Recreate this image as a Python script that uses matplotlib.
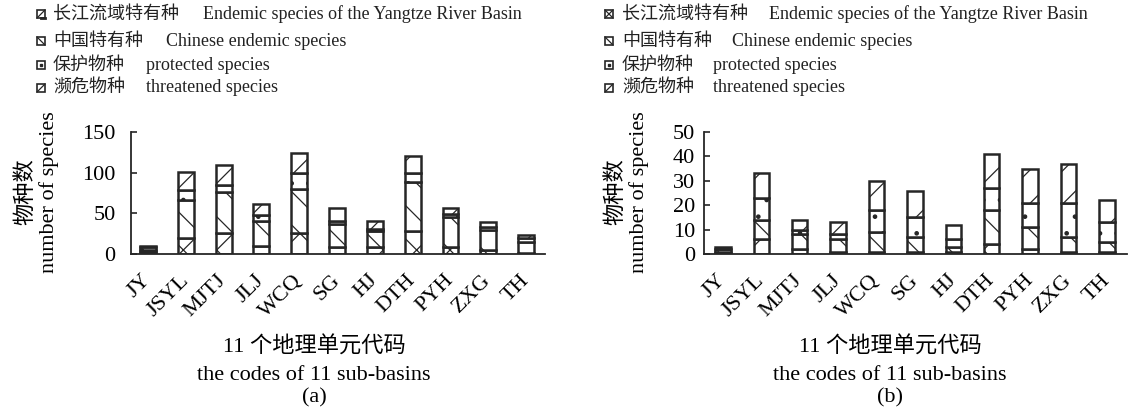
import matplotlib
matplotlib.use("Agg")
import matplotlib.pyplot as plt
from matplotlib.patches import Rectangle
from matplotlib.lines import Line2D
import numpy as np

plt.rcParams['font.family'] = ['Liberation Serif', 'Noto Sans CJK SC']
plt.rcParams['hatch.linewidth'] = 0.9

# Sub-basin codes
codes = ['JY', 'JSYL', 'MJTJ', 'JLJ', 'WCQ', 'SG', 'HJ', 'DTH', 'PYH', 'ZXG', 'TH']

# (a) species counts per category (stacked bottom -> top)
a_yangtze = [2, 20, 26, 10, 26, 9, 8, 28, 9, 5, 1]
a_chinese = [3, 46, 50, 30, 54, 28, 20, 60, 36, 25, 14]
a_protected = [3, 13, 9, 8, 20, 4, 3, 11, 4, 3, 5]
a_threatened = [2, 22, 25, 13, 24, 15, 9, 22, 7, 6, 3]

# (b) species counts per category (stacked bottom -> top)
b_yangtze = [1, 6, 2, 1, 1, 1, 1, 4, 2, 1, 1]
b_chinese = [1, 8, 6, 5, 8, 6, 2, 14, 9, 6, 4]
b_protected = [0, 9, 2, 2, 9, 8, 3, 9, 10, 14, 8]
b_threatened = [1, 10, 4, 5, 12, 11, 6, 14, 14, 16, 9]

a_yticks = [0, 50, 100, 150]
b_yticks = [0, 10, 20, 30, 40, 50]

cn_labels = ['长江流域特有种', '中国特有种', '保护物种', '濒危物种']
en_labels = ['Endemic species of the Yangtze River Basin', 'Chinese endemic species',
             'protected species', 'threatened species']
hatches = ['x', '\\', '.', '/']

W, H = 1145, 419
DARK = '#262626'
fig = plt.figure(figsize=(W / 100, H / 100), dpi=100)


def px_box(x0, y0, x1, y1):
    return [x0 / W, 1 - y1 / H, (x1 - x0) / W, (y1 - y0) / H]


def stacked(ax, series, width, ylim, yticks, ypad):
    x = np.arange(len(codes))
    bottom = np.zeros(len(codes))
    for vals, h in zip(series, hatches):
        vals = np.asarray(vals, dtype=float)
        ax.bar(x, vals, width, bottom=bottom, facecolor='white', edgecolor=DARK,
               linewidth=1.8, hatch=h, zorder=2)
        bottom += vals
    ax.set_ylim(*ylim)
    ax.set_yticks(yticks)
    ax.set_xticks(x)
    ax.set_xticklabels(codes, rotation=45, ha='right', va='center',
                       rotation_mode='anchor')
    for s in ('top', 'right'):
        ax.spines[s].set_visible(False)
    for s in ('left', 'bottom'):
        ax.spines[s].set_color(DARK)
        ax.spines[s].set_linewidth(1.3)
    ax.tick_params(axis='y', direction='in', length=4, width=1.2, color=DARK,
                   labelsize=16, pad=ypad)
    ax.tick_params(axis='x', length=0, labelsize=16, pad=17)


ax_a = fig.add_axes(px_box(131, 132, 545, 254))
stacked(ax_a, [a_yangtze, a_chinese, a_protected, a_threatened], 0.42, (0, 150), a_yticks, 11)
ax_a.set_xlim(-0.45, 10.5)

ax_b = fig.add_axes(px_box(704, 132, 1127, 254))
stacked(ax_b, [b_yangtze, b_chinese, b_protected, b_threatened], 0.40, (0, 50), b_yticks, 6.5)
ax_b.set_xlim(-0.49, 10.52)

# Axis titles
for xc, tag in ((314, '(a)'), (890, '(b)')):
    fig.text(xc / W, 1 - 347 / H, '11 个地理单元代码', ha='center', va='center', fontsize=16)
    fig.text(xc / W, 1 - 375 / H, 'the codes of 11 sub-basins', ha='center', va='center', fontsize=16)
    fig.text(xc / W, 1 - 398 / H, tag, ha='center', va='center', fontsize=16)

for xc in (37, 627):
    fig.text(xc / W, 1 - 192 / H, '物种数\nnumber of species', rotation=90,
             ha='center', va='center', multialignment='center', fontsize=16, linespacing=1.2)


# Legends: small hatched squares with Chinese and English text
def icon(x0, yc, kind, size=8):
    y0 = yc - size / 2
    x1, y1 = x0 + size, y0 + size
    tr = fig.transFigure
    fig.add_artist(Rectangle((x0 / W, 1 - y1 / H), size / W, size / H, transform=tr,
                             facecolor='white', edgecolor=DARK, linewidth=1.2))
    segs = []
    if kind in ('x', '/'):
        segs.append(((x0, y1), (x1, y0)))
    if kind in ('x', '\\'):
        segs.append(((x0, y0), (x1, y1)))
    for (p, q) in segs:
        fig.add_artist(Line2D([p[0] / W, q[0] / W], [1 - p[1] / H, 1 - q[1] / H],
                              transform=tr, color=DARK, linewidth=0.9))
    if kind == '.':
        fig.add_artist(Line2D([(x0 + size / 2) / W], [1 - yc / H], transform=tr,
                              marker='s', markersize=1.5, color=DARK, linestyle='none'))
    if kind == 'half':
        fig.add_artist(Line2D([x0 / W, x1 / W], [1 - y1 / H, 1 - y0 / H], transform=tr,
                              color=DARK, linewidth=0.9))
        fig.add_artist(Line2D([(x0 + 4) / W, x1 / W], [1 - y1 / H, 1 - y1 / H], transform=tr,
                              color=DARK, linewidth=2.0))


rows_y = [14, 41, 65, 88]
legend_sets = [
    (37, 53, [203, 166, 146, 146], ['half', '\\', '.', '/']),
    (605, 622, [769, 732, 713, 713], ['x', '\\', '.', '/']),
]
for ix, cx, ex_list, kinds in legend_sets:
    for yc, cn, en, ex, kd in zip(rows_y, cn_labels, en_labels, ex_list, kinds):
        icon(ix, yc, kd)
        fig.text(cx / W, 1 - yc / H, cn, ha='left', va='center', fontsize=13,
                 family=['Noto Sans CJK SC'], color='#222222')
        fig.text(ex / W, 1 - yc / H, en, ha='left', va='center', fontsize=13, color='#222222')

fig.savefig('out.png', dpi=100)
